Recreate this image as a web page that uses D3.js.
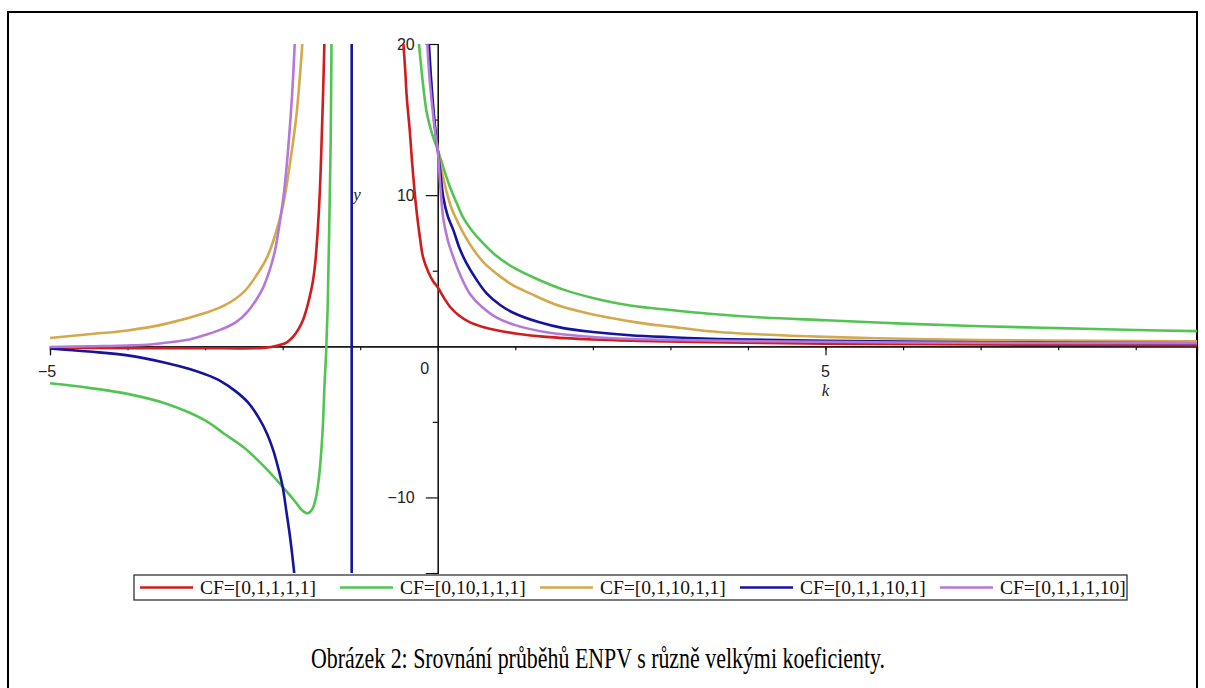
<!DOCTYPE html>
<html>
<head>
<meta charset="utf-8">
<script src="https://cdn.jsdelivr.net/npm/d3@7"></script>
<style>
  body { margin: 0; background: #fff; }
  svg { display: block; }
</style>
</head>
<body>
<svg id="chart" width="1205" height="688"></svg>
<script>
// legend labels + colours
const cfLabels = ["CF=[0,1,1,1,1]", "CF=[0,10,1,1,1]", "CF=[0,1,10,1,1]", "CF=[0,1,1,10,1]", "CF=[0,1,1,1,10]"];
const cfColors = ["#d01c1c", "#52c452", "#d4a84c", "#14149c", "#b478d8"];

// values, [k, ENPV], one array per branch
const redLeft = [[-5, -0.1], [-4, -0.12], [-3, -0.13], [-2.3, -0.12], [-2.15, -0.05], [-2.05, 0.07], [-1.95, 0.25], [-1.87, 0.6], [-1.8, 1.1], [-1.74, 1.7], [-1.69, 2.5], [-1.65, 3.3], [-1.61, 4.3], [-1.58, 5.5], [-1.55, 7.5], [-1.52, 10.3], [-1.5, 13.2], [-1.48, 16.5], [-1.46, 20.5]];
const redRight = [[-0.45, 20.5], [-0.42, 18.3], [-0.4, 16.5], [-0.36, 14.2], [-0.33, 12.1], [-0.3, 10.3], [-0.27, 8.8], [-0.23, 7.2], [-0.19, 5.9], [-0.12, 4.9], [-0.06, 4.3], [0, 3.9], [0.08, 3.2], [0.16, 2.6], [0.27, 2.05], [0.41, 1.6], [0.57, 1.3], [0.76, 1.06], [1.0, 0.85], [1.4, 0.62], [2, 0.45], [2.6, 0.36], [3.5, 0.27], [5, 0.17], [7, 0.12], [9.8, 0.08]];

const greenLeft = [[-5, -2.45], [-4.5, -2.75], [-4, -3.15], [-3.5, -3.8], [-3, -4.9], [-2.75, -5.8], [-2.5, -6.7], [-2.25, -7.9], [-2.0, -9.3], [-1.85, -10.2], [-1.75, -10.85], [-1.68, -11.05], [-1.62, -10.8], [-1.57, -10.0], [-1.53, -8.6], [-1.5, -6.8], [-1.48, -5.1], [-1.46, -2.5], [-1.44, -0.5], [-1.42, 2.5], [-1.4, 7.7], [-1.38, 14], [-1.37, 20.5]];
const greenRight = [[-0.25, 20.5], [-0.2, 17.8], [-0.14, 15.4], [-0.07, 14.0], [0, 13], [0.08, 11.7], [0.16, 10.5], [0.25, 9.4], [0.33, 8.5], [0.45, 7.6], [0.55, 7.0], [0.75, 6.0], [0.98, 5.2], [1.3, 4.4], [1.62, 3.75], [2, 3.2], [2.48, 2.7], [3, 2.4], [3.5, 2.15], [4.19, 1.9], [5, 1.72], [6, 1.5], [7, 1.33], [8, 1.2], [9, 1.08], [9.8, 1.0]];

const yellowLeft = [[-5, 0.55], [-4.5, 0.8], [-4, 1.05], [-3.5, 1.5], [-3, 2.2], [-2.75, 2.7], [-2.5, 3.6], [-2.35, 4.6], [-2.2, 5.9], [-2.1, 7.3], [-2.0, 9.2], [-1.9, 12.3], [-1.82, 15.4], [-1.74, 20.5]];
const yellowRight = [[-0.13, 20.5], [-0.1, 18.2], [-0.06, 15.8], [-0.03, 14.3], [0, 13], [0.06, 11.4], [0.12, 10.1], [0.18, 9.1], [0.25, 8.3], [0.35, 7.3], [0.46, 6.4], [0.6, 5.5], [0.76, 4.8], [0.95, 4.1], [1.19, 3.5], [1.5, 2.8], [1.84, 2.3], [2.2, 1.9], [2.6, 1.55], [3, 1.3], [3.5, 1.0], [4.19, 0.78], [5, 0.62], [6, 0.5], [7, 0.42], [8.5, 0.36], [9.8, 0.33]];

const blueLeft = [[-5, -0.15], [-4.5, -0.35], [-4, -0.6], [-3.5, -1.1], [-3.2, -1.5], [-3, -1.85], [-2.8, -2.3], [-2.6, -3.0], [-2.45, -3.7], [-2.3, -4.8], [-2.2, -5.8], [-2.12, -6.9], [-2.05, -8.2], [-2.0, -9.3], [-1.95, -11.0], [-1.9, -12.8], [-1.84, -15.5]];
const bluePole = [[-1.11, -15.5], [-1.11, 20.5]];
const blueRight = [[-0.12, 20.5], [-0.09, 18], [-0.05, 15.3], [-0.02, 13.8], [0, 13], [0.04, 11.2], [0.07, 9.9], [0.13, 8.6], [0.2, 7.7], [0.28, 6.5], [0.37, 5.5], [0.5, 4.4], [0.63, 3.5], [0.8, 2.75], [0.98, 2.2], [1.3, 1.6], [1.62, 1.2], [2, 0.95], [2.48, 0.73], [3, 0.6], [3.77, 0.46], [5, 0.36], [7, 0.27], [9.8, 0.2]];

const purpleLeft = [[-5, -0.05], [-4.5, 0], [-4, 0.05], [-3.7, 0.12], [-3.4, 0.3], [-3.2, 0.45], [-3, 0.75], [-2.8, 1.1], [-2.6, 1.6], [-2.46, 2.25], [-2.35, 3.0], [-2.25, 3.9], [-2.17, 5.0], [-2.1, 6.3], [-2.04, 8.1], [-1.98, 10.3], [-1.93, 13.0], [-1.88, 16.5], [-1.84, 20.5]];
const purpleRight = [[-0.14, 20.5], [-0.11, 18], [-0.07, 15.8], [-0.03, 14], [0, 13], [0.03, 10.8], [0.07, 8.5], [0.13, 7.0], [0.2, 5.9], [0.3, 4.6], [0.41, 3.5], [0.57, 2.6], [0.76, 1.9], [1.0, 1.4], [1.4, 0.93], [1.8, 0.7], [2.26, 0.53], [3, 0.42], [4, 0.34], [6, 0.25], [9.8, 0.2]];

const series = [
  [redLeft, redRight],
  [greenLeft, greenRight],
  [yellowLeft, yellowRight],
  [blueLeft, bluePole, blueRight],
  [purpleLeft, purpleRight]
];

const xMinor = d3.range(-5, 10);
const xMajor = [-5, 5];
const yMinor = [-15, -5, 5, 15];
const yMajor = [-10, 10, 20];

const captionText = "Obrázek 2: Srovnání průběhů ENPV s různě velkými koeficienty.";

const svg = d3.select("#chart");

// outer frame
svg.append("rect")
  .attr("x", 8).attr("y", 12)
  .attr("width", 1189).attr("height", 700)
  .attr("fill", "none").attr("stroke", "#000").attr("stroke-width", 2);

const x = d3.scaleLinear().domain([-5, 9.79]).range([50, 1197]);
const y = d3.scaleLinear().domain([-15, 20]).range([573, 44]);

// axes through the origin
const xAxisG = svg.append("g").attr("transform", `translate(0,${y(0)})`);
xAxisG.call(d3.axisBottom(x).tickValues(xMinor).tickSize(4).tickFormat(""));
xAxisG.append("g").call(d3.axisBottom(x).tickValues(xMajor).tickSize(9).tickFormat(""));

const yAxisG = svg.append("g").attr("transform", `translate(${x(0)},0)`);
yAxisG.call(d3.axisLeft(y).tickValues(yMinor).tickSize(5).tickFormat(""));
yAxisG.append("g").call(d3.axisLeft(y).tickValues(yMajor).tickSize(12).tickFormat(""));

svg.selectAll(".domain").attr("stroke", "#111").attr("stroke-width", 1.2);
svg.selectAll(".tick line").attr("stroke", "#111").attr("stroke-width", 1.2);

const labelFont = "'Liberation Sans', Arial, sans-serif";

svg.selectAll("text.xlab").data(xMajor).enter().append("text")
  .attr("class", "xlab")
  .attr("x", d => x(d) - (d < 0 ? 3 : 0)).attr("y", y(0) + 31)
  .attr("text-anchor", "middle")
  .style("font", `16px ${labelFont}`).attr("fill", "#222")
  .text(d => d < 0 ? "\u2212" + Math.abs(d) : d);

svg.append("text")
  .attr("x", x(0) - 13).attr("y", y(0) + 28)
  .attr("text-anchor", "middle")
  .style("font", `16px ${labelFont}`).attr("fill", "#222")
  .text("0");

svg.selectAll("text.ylab").data(yMajor).enter().append("text")
  .attr("class", "ylab")
  .attr("x", x(0) - 23).attr("y", d => y(d) + 6)
  .attr("text-anchor", "end")
  .style("font", `16px ${labelFont}`).attr("fill", "#222")
  .text(d => d < 0 ? "\u2212" + Math.abs(d) : d);

svg.append("text")
  .attr("x", x(5)).attr("y", y(0) + 50)
  .attr("text-anchor", "middle")
  .style("font", "italic 17px 'Liberation Serif', serif").attr("fill", "#222")
  .text("k");

svg.append("text")
  .attr("x", 357).attr("y", y(10) + 5)
  .attr("text-anchor", "middle")
  .style("font", "italic 17px 'Liberation Serif', serif").attr("fill", "#222")
  .text("y");

// curves, clipped to the plot box
svg.append("clipPath").attr("id", "plotClip")
  .append("rect")
  .attr("x", x(-5) - 2).attr("y", y(20))
  .attr("width", x(9.79) - x(-5) + 2).attr("height", y(-15) - y(20));

const line = d3.line()
  .x(d => x(d[0]))
  .y(d => y(d[1]))
  .curve(d3.curveCatmullRom.alpha(0.5));

const plot = svg.append("g").attr("clip-path", "url(#plotClip)");
series.forEach((branches, i) => {
  plot.selectAll(null).data(branches).enter().append("path")
    .attr("d", line)
    .attr("fill", "none")
    .attr("stroke", cfColors[i])
    .attr("stroke-width", 2.6)
    .attr("stroke-linejoin", "round");
});

// legend
const legend = svg.append("g");
legend.append("rect")
  .attr("x", 134).attr("y", 575)
  .attr("width", 993).attr("height", 25)
  .attr("fill", "#fff").attr("stroke", "#222").attr("stroke-width", 1.2);

const item = legend.selectAll("g.item").data(cfLabels).enter().append("g")
  .attr("class", "item")
  .attr("transform", (d, i) => `translate(${140 + i * 200},587.5)`);
item.append("line")
  .attr("x1", 0).attr("x2", 53)
  .attr("stroke", (d, i) => cfColors[i]).attr("stroke-width", 2.6);
item.append("text")
  .attr("x", 60).attr("y", 6.5)
  .style("font", "19.5px 'Liberation Serif', serif").attr("fill", "#111")
  .text(d => d);

// caption
svg.append("text")
  .attr("x", 598).attr("y", 668)
  .attr("text-anchor", "middle")
  .attr("textLength", 574).attr("lengthAdjust", "spacingAndGlyphs")
  .style("font", "30px 'Liberation Serif', serif").attr("fill", "#000")
  .text(captionText);
</script>
</body>
</html>
